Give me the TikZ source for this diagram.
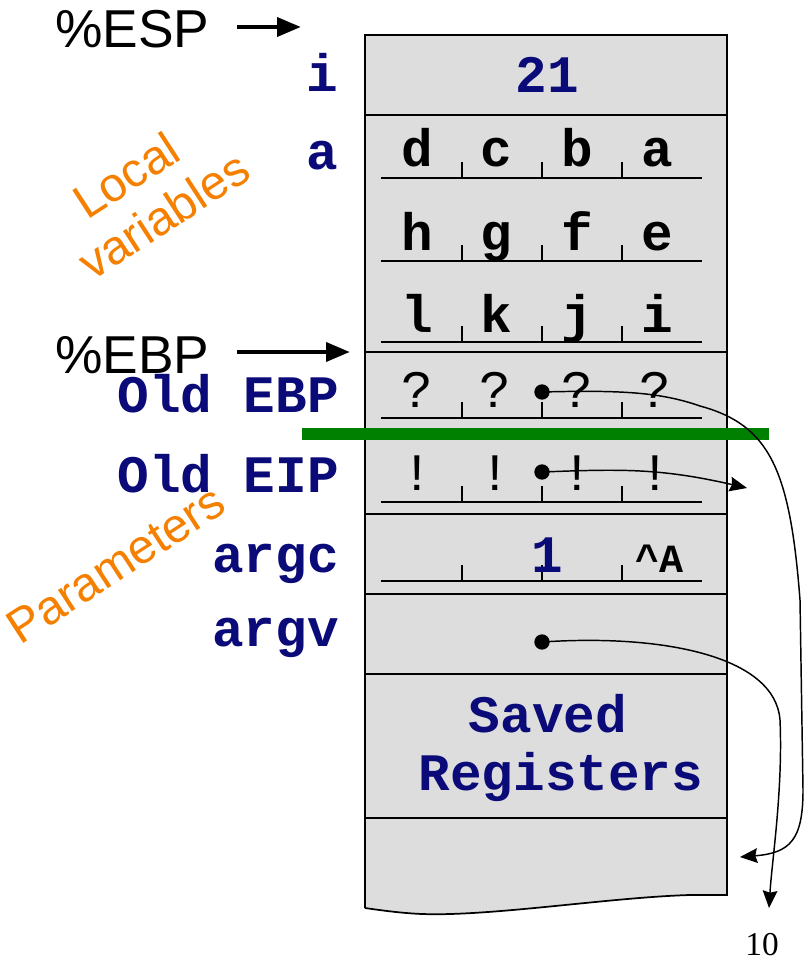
\documentclass[tikz,border=0pt]{standalone}
\usepackage{fontspec}
\newfontfamily\cour{Liberation Mono}
\newfontfamily\arialf{Liberation Sans}
\newfontfamily\tnr{Liberation Serif}
\usetikzlibrary{arrows.meta}
\definecolor{navy}{RGB}{10,10,120}
\definecolor{stackgray}{RGB}{221,221,221}
\definecolor{orng}{RGB}{245,128,0}
\definecolor{grn}{RGB}{0,128,0}
\begin{document}
\begin{tikzpicture}[x=0.75pt,y=-0.75pt,
  lbl/.style={font=\cour\bfseries\fontsize{39.5}{40}\selectfont, text=navy, inner sep=0, anchor=base east},
  cell/.style={font=\cour\bfseries\fontsize{39.5}{40}\selectfont, inner sep=0, anchor=base},
  cellr/.style={font=\cour\fontsize{39.5}{40}\selectfont, inner sep=0, anchor=base},
  reg/.style={font=\arialf\fontsize{40}{40}\selectfont, inner sep=0, anchor=base west},
  sect/.style={font=\arialf\fontsize{36}{36}\selectfont, text=orng, inner sep=0, anchor=base west, rotate=33},
  rowline/.style={line width=1.3pt},
  uline/.style={line width=1pt},
  ptr/.style={line width=1.1pt, -{Stealth[length=13pt,width=11pt,inset=1.5pt]}},
  dot/.style={circle, fill=black, inner sep=0, minimum size=11.5pt},
  regptr/.style={line width=3.5pt, -{Triangle[length=18pt,width=14pt]}},
]
\useasboundingbox (0,0) rectangle (803,962);
% stack body
\fill[stackgray] (365,35) -- (727,35) -- (727,895) -- (690,895)
  .. controls (620,897) and (520,912) .. (450,914)
  .. controls (420,915) and (400,913) .. (365,908) -- cycle;
\draw[rowline] (365,908) -- (365,35) -- (727,35) -- (727,895) -- (690,895)
  .. controls (620,897) and (520,912) .. (450,914)
  .. controls (420,915) and (400,913) .. (365,908);
\foreach \y in {115,352,514,594,674,818} \draw[rowline] (365,\y) -- (727,\y);
% underlines with ticks
\foreach \y in {178,261,342,418,502,581}{
  \draw[uline] (381,\y) -- (702,\y);
  \foreach \x in {462,542,622} \draw[uline] (\x,\y) -- (\x,\y-16);
}
% cell contents
\node[cell, text=navy] (v21) at (547,93) {21};
\node[cell] (cd) at (417,167) {d}; \node[cell] (cc) at (496,167) {c};
\node[cell] (cb) at (577,167) {b}; \node[cell] (ca) at (657,167) {a};
\node[cell] (ch) at (417,251) {h}; \node[cell] (cg) at (496,251) {g};
\node[cell] (cf) at (577,251) {f}; \node[cell] (ce) at (657,251) {e};
\node[cell] (cl) at (417,332) {l}; \node[cell] (ck) at (496,332) {k};
\node[cell] (cj) at (577,332) {j}; \node[cell] (ci) at (657,332) {i};
\node[cellr] (q1) at (417,407) {?}; \node[cellr] (q2) at (495,407) {?};
\node[cellr] (q3) at (577,407) {?}; \node[cellr] (q4) at (655,407) {?};
\node[cellr] (e1) at (417,490) {!}; \node[cellr] (e2) at (495,490) {!};
\node[cellr] (e3) at (577,490) {!}; \node[cellr] (e4) at (655,490) {!};
\node[cell, text=navy] (one) at (547,572) {1};
\node[cell, font=\cour\bfseries\fontsize{30}{30}\selectfont] (ctla) at (659,572) {\^{}A};
\node[cell, text=navy] (saved) at (548,732) {Saved};
\node[cell, text=navy] (regs) at (561,790) {Registers};
% row labels
\node[lbl] (li) at (338,92) {i};
\node[lbl] (la) at (338,170) {a};
\node[lbl] (lebp) at (339,412) {Old EBP};
\node[lbl] (leip) at (339,492) {Old EIP};
\node[lbl] (largc) at (339,572) {argc};
\node[lbl] (largv) at (339,646) {argv};
% registers
\node[reg] (esp) at (55,48) {\%ESP};
\node[reg] (ebp) at (55,373) {\%EBP};
\coordinate (espend) at (301,27);
\coordinate (ebpend) at (350,352);
\draw[regptr] (237,27) -- (espend);
\draw[regptr] (237,352) -- (ebpend);
% section labels
\node[sect] (loc) at (87,221) {Local};
\node[sect] (var) at (92,282) {variables};
\node[sect] (par) at (20,646) {Parameters};
% green line
\draw[grn, line width=9pt] (302,434) -- (769,434);
% pointers
\node[dot] (debp) at (542,392) {};
\node[dot] (deip) at (542,472) {};
\node[dot] (dargv) at (542,642) {};
\coordinate (tebp) at (740,857);
\coordinate (teip) at (747,488);
\coordinate (targv) at (769,908);
\draw[ptr] (debp.center) .. controls (620,390) and (660,392) .. (700,406)
  .. controls (770,425) and (790,470) .. (800,600) -- (803,790)
  .. controls (803,840) and (790,853) .. (tebp);
\draw[ptr] (deip.center) .. controls (620,469) and (660,468) .. (teip);
\draw[ptr] (dargv.center) .. controls (660,634) and (775,655) .. (780,720)
  .. controls (783,790) and (772,860) .. (targv);
% page number
\node[font=\tnr\fontsize{25}{25}\selectfont, inner sep=0, anchor=base] (pg) at (762,955) {10};
\end{tikzpicture}
\end{document}
